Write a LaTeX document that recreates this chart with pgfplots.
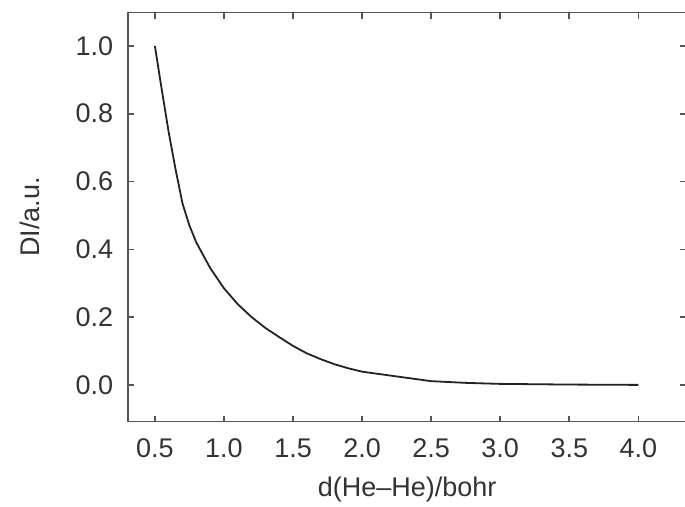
\documentclass[border=0pt]{standalone}
\usepackage{pgfplots}
\pgfplotsset{compat=1.18}
\usepackage{fontspec}
\setmainfont{Liberation Sans}
\definecolor{txt}{HTML}{333333}
\definecolor{axc}{HTML}{555555}
\definecolor{crv}{HTML}{222222}
\begin{document}
\begin{tikzpicture}
\begin{axis}[
  name=ax,
  scale only axis,
  width=279pt, height=204.5pt,
  xmin=0.307, xmax=4.345,
  ymin=-0.108, ymax=1.098,
  xtick={0.5,1.0,...,4.0},
  ytick={0,0.2,...,1.0},
  tick align=inside,
  major tick length=3pt,
  axis line style={color=axc, line width=0.8pt},
  every tick/.style={color=axc, line width=0.8pt},
  tick label style={font=\fontsize{13.5}{15}\selectfont, color=txt},
  label style={font=\fontsize{13.5}{15}\selectfont, color=txt},
  /pgf/number format/.cd, fixed, fixed zerofill, precision=1, assume math mode=true,
  /pgfplots/.cd,
  xticklabel shift=5pt,
  yticklabel shift=4pt,
  xlabel={d(He\textendash He)/bohr},
  ylabel={DI/a.u.},
  xlabel style={at={(axis description cs:0.5,-0.166)}, anchor=center},
  ylabel style={at={(axis description cs:-0.1756,0.5)}, anchor=center},
]
\addplot[color=crv, line width=0.9pt, mark=none] coordinates {
(0.5,1.0) (0.55,0.87) (0.6,0.745) (0.65,0.635) (0.7,0.535) (0.75,0.47) (0.8,0.42) (0.9,0.345) (1.0,0.285)
(1.1,0.238) (1.2,0.200) (1.3,0.168) (1.4,0.141) (1.5,0.115) (1.6,0.093)
(1.7,0.076) (1.8,0.061) (1.9,0.049) (2.0,0.039) (2.25,0.025) (2.5,0.011)
(2.75,0.006) (3.0,0.003) (3.5,0.001) (4.0,0.0)
};
\end{axis}
\pgfresetboundingbox
\path ([xshift=-64.15pt,yshift=-42.65pt]ax.south west) rectangle ([xshift=-0.5pt,yshift=6.35pt]ax.north east);
\end{tikzpicture}
\end{document}
